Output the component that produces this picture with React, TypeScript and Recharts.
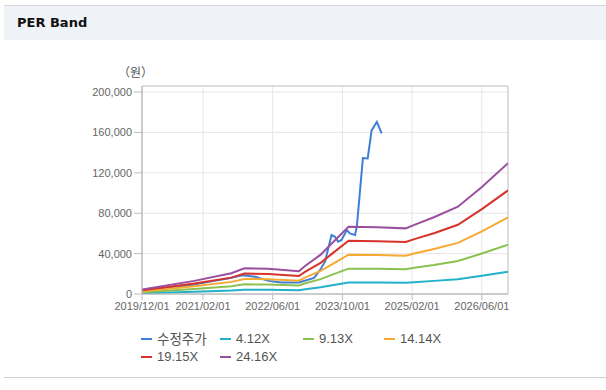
import React from "react";
import { LineChart, Line, XAxis, YAxis, CartesianGrid, ReferenceArea } from "recharts";

// x values are month offsets from 2019/12/01
const xTickMonths = [0, 14, 30, 46, 62, 78];
const xTickLabels = ["2019/12/01", "2021/02/01", "2022/06/01", "2023/10/01", "2025/02/01", "2026/06/01"];
const yTicks = [0, 40000, 80000, 120000, 160000, 200000];

const bandMonths = [0, 12, 20.5, 23.5, 29, 36, 37.5, 41, 44, 47.4, 54, 60.5, 62.5, 67, 72.5, 78, 84];
const band412 = [800, 2200, 3500, 4300, 4300, 3800, 4800, 6600, 8900, 11300, 11300, 11100, 11700, 13000, 14700, 18100, 22100];
const band913 = [1700, 4900, 7700, 9600, 9400, 8500, 10600, 14700, 19700, 25100, 24900, 24600, 25900, 28700, 32700, 40100, 48900];
const band1414 = [2600, 7600, 12000, 14900, 14600, 13200, 16400, 22800, 30400, 38900, 38600, 38000, 40100, 44500, 50600, 62000, 75800];
const band1915 = [3600, 10300, 16200, 20200, 19800, 17800, 22200, 30900, 41200, 52700, 52300, 51500, 54300, 60200, 68600, 84000, 102600];
const band2416 = [4500, 13000, 20500, 25500, 25000, 22500, 28000, 39000, 52000, 66500, 66000, 65000, 68500, 76000, 86500, 106000, 129500];

const priceMonths = [0, 4, 8, 12, 16, 20, 23, 26, 29, 32, 36, 39.5, 40.9, 42.0, 43.5, 44.3, 45.0, 45.8, 47.0, 47.7, 48.9, 49.3, 50.7, 51.8, 52.7, 53.9, 55.0];
const priceValues = [2800, 5000, 7200, 9500, 12500, 15500, 18500, 17000, 13000, 11500, 11500, 16000, 24000, 32000, 58400, 56700, 51800, 53500, 63400, 60000, 58400, 66600, 134600, 134300, 162000, 170500, 159000];

const seriesNames = ["수정주가", "4.12X", "9.13X", "14.14X", "19.15X", "24.16X"];
const seriesColors = ["#3f7fd6", "#22b1c8", "#8cc152", "#f6a933", "#d8322c", "#9a4f9f"];

const priceData = priceMonths.map((m, i) => ({ m, v: priceValues[i] }));
const bandSets = [band412, band913, band1414, band1915, band2416];
const bandData = bandSets.map((arr) => bandMonths.map((m, i) => ({ m, v: arr[i] })));
const allData = [priceData, ...bandData];

const fmt = (v: number) => v.toLocaleString("en-US");
const tickFont = { fontFamily: "'Liberation Sans', Arial, sans-serif", fontSize: 11, fill: "#666" };

// legend column starts (line start x) and row tops
const legendCols = [141, 220, 303, 384];
const legendRows = [330, 348];

export default function App() {
  return (
    <div style={{ position: "absolute", left: 0, top: 0, width: 606, height: 390, background: "#fff", overflow: "hidden" }}>
      <div
        style={{
          position: "absolute",
          left: 4,
          top: 5,
          width: 602,
          height: 35,
          borderTop: "1px solid #d4d6da",
          background: "#eff2f7",
          boxSizing: "border-box",
        }}
      >
        <div
          style={{
            position: "absolute",
            left: 13,
            top: 9,
            fontFamily: "'DejaVu Sans', sans-serif",
            fontWeight: "bold",
            fontSize: 13,
            color: "#111",
            lineHeight: "16px",
          }}
        >
          PER Band
        </div>
      </div>
      <div
        style={{
          position: "absolute",
          left: 118,
          top: 64,
          fontFamily: "'Noto Sans CJK KR', sans-serif",
          fontSize: 12,
          color: "#555",
          lineHeight: "16px",
        }}
      >
        （원）
      </div>
      <div style={{ position: "absolute", left: 0, top: 60 }}>
        <LineChart width={606} height={270} margin={{ top: 26, right: 98, bottom: 6, left: 82 }}>
          <CartesianGrid stroke="#e6e6e6" strokeWidth={1} />
          <XAxis
            type="number"
            dataKey="m"
            domain={[0, 84]}
            ticks={xTickMonths}
            tickFormatter={(v: number) => xTickLabels[xTickMonths.indexOf(v)] ?? ""}
            tick={tickFont}
            tickSize={6}
            tickMargin={2}
            stroke="#bbb"
            height={30}
            allowDataOverflow
            interval={0}
          />
          <YAxis
            type="number"
            domain={[0, 206000]}
            ticks={yTicks}
            tickFormatter={fmt}
            tick={tickFont}
            tickSize={8}
            tickMargin={2}
            stroke="#bbb"
            width={60}
            allowDataOverflow
            interval={0}
          />
          <ReferenceArea x1={0} x2={84} y1={0} y2={206000} fill="none" stroke="#c8c8c8" strokeWidth={1} />
          {allData.map((d, i) => (
            <Line
              key={seriesNames[i]}
              data={d}
              dataKey="v"
              name={seriesNames[i]}
              type="linear"
              stroke={seriesColors[i]}
              strokeWidth={2}
              dot={false}
              activeDot={false}
              isAnimationActive={false}
            />
          ))}
        </LineChart>
      </div>
      {seriesNames.map((n, i) => (
        <div
          key={n}
          style={{
            position: "absolute",
            left: legendCols[i % 4],
            top: legendRows[Math.floor(i / 4)],
            height: 17,
            display: "flex",
            alignItems: "center",
            whiteSpace: "nowrap",
            fontFamily: i === 0 ? "'Noto Sans CJK KR', sans-serif" : "'Liberation Sans', Arial, sans-serif",
            fontSize: i === 0 ? 13.5 : 13,
            color: "#555",
          }}
        >
          <span style={{ display: "inline-block", width: 11, height: 2, background: seriesColors[i], marginRight: 5 }} />
          <span style={{ lineHeight: "17px" }}>{n}</span>
        </div>
      ))}
      <div style={{ position: "absolute", left: 4, top: 377, width: 602, height: 1, background: "#d0d0d0" }} />
    </div>
  );
}
